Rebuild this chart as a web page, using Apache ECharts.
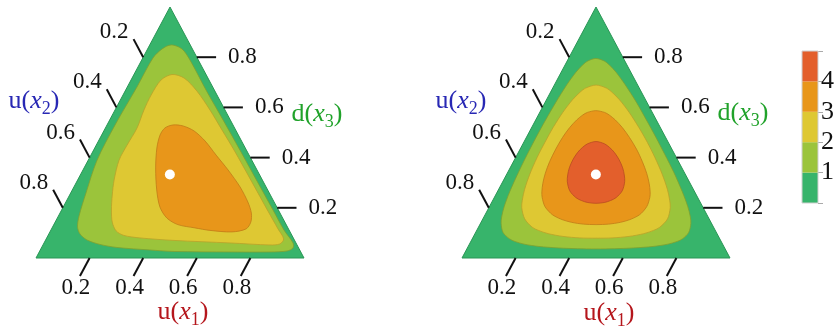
<!DOCTYPE html>
<html>
<head>
<meta charset="utf-8">
<script src="https://cdn.jsdelivr.net/npm/echarts@6/dist/echarts.min.js"></script>
<style>
  html, body { margin: 0; padding: 0; background: #fff; }
  #chart { width: 839px; height: 331px; }
</style>
</head>
<body>
<div id="chart"></div>
<script>
// Ternary points are stored as [u(x1), d(x3)]; u(x2) = 1 - u(x1) - d(x3).
const tickValues = [0.2, 0.4, 0.6, 0.8];
const tickLabels = ['0.2', '0.4', '0.6', '0.8'];
const colorbarBounds = [0, 1, 2, 3, 4, 5];
const colorbarLabels = [1, 2, 3, 4];

// simplex corners: u(x2) = 1, u(x1) = 1, d(x3) = 1
const simplexCorners = [[0, 0], [1, 0], [0, 1]];

// reference point marked in both panels
const markedPoint = [0.333, 0.333];

// left panel: density contours at levels 1, 2, 3
const leftLevel1 = [
  [0.080, 0.849], [0.054, 0.833], [0.038, 0.797], [0.036, 0.681], [0.030, 0.530],
  [0.033, 0.390], [0.057, 0.259], [0.077, 0.167], [0.093, 0.124], [0.116, 0.096],
  [0.154, 0.072], [0.212, 0.054], [0.281, 0.042], [0.409, 0.032], [0.502, 0.026],
  [0.712, 0.024], [0.861, 0.024], [0.923, 0.028], [0.939, 0.040], [0.929, 0.060],
  [0.869, 0.112], [0.789, 0.191], [0.667, 0.311], [0.546, 0.430], [0.423, 0.550],
  [0.300, 0.669], [0.180, 0.789], [0.128, 0.833]
];
const leftLevel2 = [
  [0.142, 0.731], [0.112, 0.709], [0.105, 0.649], [0.108, 0.590], [0.118, 0.518],
  [0.115, 0.450], [0.115, 0.390], [0.136, 0.311], [0.159, 0.251], [0.186, 0.191],
  [0.213, 0.143], [0.245, 0.108], [0.283, 0.090], [0.348, 0.080], [0.480, 0.070],
  [0.694, 0.060], [0.847, 0.052], [0.882, 0.056], [0.886, 0.076], [0.845, 0.116],
  [0.772, 0.187], [0.654, 0.303], [0.524, 0.430], [0.439, 0.510], [0.354, 0.590],
  [0.268, 0.665], [0.194, 0.717]
];
const leftLevel3 = [
  [0.246, 0.530], [0.286, 0.526], [0.337, 0.506], [0.398, 0.466], [0.467, 0.410],
  [0.541, 0.351], [0.620, 0.283], [0.679, 0.223], [0.714, 0.179], [0.730, 0.143],
  [0.726, 0.116], [0.679, 0.104], [0.594, 0.110], [0.533, 0.120], [0.463, 0.133],
  [0.409, 0.159], [0.361, 0.203], [0.315, 0.271], [0.267, 0.359], [0.232, 0.438],
  [0.218, 0.490], [0.222, 0.518]
];

// right panel: density contours at levels 1, 2, 3, 4
const rightLevel1 = [
  [0.036, 0.482], [0.037, 0.550], [0.040, 0.620], [0.046, 0.690], [0.055, 0.740],
  [0.066, 0.770], [0.077, 0.785], [0.102, 0.795], [0.138, 0.785], [0.164, 0.770],
  [0.205, 0.740], [0.264, 0.690], [0.341, 0.620], [0.413, 0.550], [0.482, 0.482],
  [0.550, 0.413], [0.620, 0.341], [0.690, 0.264], [0.740, 0.205], [0.770, 0.164],
  [0.785, 0.138], [0.795, 0.102], [0.785, 0.077], [0.770, 0.066], [0.740, 0.055],
  [0.690, 0.046], [0.620, 0.040], [0.550, 0.037], [0.482, 0.036], [0.413, 0.037],
  [0.341, 0.040], [0.264, 0.046], [0.205, 0.055], [0.164, 0.066], [0.138, 0.077],
  [0.102, 0.102], [0.077, 0.138], [0.066, 0.164], [0.055, 0.205], [0.046, 0.264],
  [0.040, 0.341], [0.037, 0.413]
];
const rightLevel2 = [
  [0.079, 0.461], [0.080, 0.520], [0.086, 0.580], [0.097, 0.630], [0.110, 0.660],
  [0.123, 0.677], [0.156, 0.689], [0.200, 0.677], [0.230, 0.660], [0.273, 0.630],
  [0.334, 0.580], [0.400, 0.520], [0.461, 0.461], [0.520, 0.400], [0.580, 0.334],
  [0.630, 0.273], [0.660, 0.230], [0.677, 0.200], [0.689, 0.156], [0.677, 0.123],
  [0.660, 0.110], [0.630, 0.097], [0.580, 0.086], [0.520, 0.080], [0.461, 0.079],
  [0.400, 0.080], [0.334, 0.086], [0.273, 0.097], [0.230, 0.110], [0.200, 0.123],
  [0.156, 0.156], [0.123, 0.200], [0.110, 0.230], [0.097, 0.273], [0.086, 0.334],
  [0.080, 0.400]
];
const rightLevel3 = [
  [0.133, 0.434], [0.135, 0.480], [0.142, 0.520], [0.153, 0.550], [0.166, 0.570],
  [0.178, 0.580], [0.206, 0.587], [0.242, 0.580], [0.264, 0.570], [0.297, 0.550],
  [0.338, 0.520], [0.385, 0.480], [0.434, 0.434], [0.480, 0.385], [0.520, 0.338],
  [0.550, 0.297], [0.570, 0.264], [0.580, 0.242], [0.587, 0.206], [0.580, 0.178],
  [0.570, 0.166], [0.550, 0.153], [0.520, 0.142], [0.480, 0.135], [0.434, 0.133],
  [0.385, 0.135], [0.338, 0.142], [0.297, 0.153], [0.264, 0.166], [0.242, 0.178],
  [0.206, 0.206], [0.178, 0.242], [0.166, 0.264], [0.153, 0.297], [0.142, 0.338],
  [0.135, 0.385]
];
const rightLevel4 = [
  [0.218, 0.391], [0.221, 0.420], [0.229, 0.440], [0.241, 0.455], [0.268, 0.464],
  [0.304, 0.455], [0.331, 0.440], [0.359, 0.420], [0.391, 0.391], [0.420, 0.359],
  [0.440, 0.331], [0.455, 0.304], [0.464, 0.268], [0.455, 0.241], [0.440, 0.229],
  [0.420, 0.221], [0.391, 0.218], [0.359, 0.221], [0.331, 0.229], [0.304, 0.241],
  [0.268, 0.268], [0.241, 0.304], [0.229, 0.331], [0.221, 0.359]
];

// fills from the outer band (< 1) to the inner band (> 4)
const bandFills = ['#37b46b', '#9bc43b', '#dec833', '#e8961a', '#e35f2c'];
const bandStrokes = ['#2a9656', '#7e9f30', '#b8a22a', '#c27b16', '#b94b22'];

const FONT = '"Liberation Serif", "Times New Roman", serif';
const TICK_LEN = 0.072;

// ternary [u(x1), d(x3)] -> position in the unit frame of a panel grid
function toXY(p) {
  return [p[0] + p[1] / 2, p[1]];
}

function contourSeries(gridIndex, contours) {
  return {
    type: 'custom',
    coordinateSystem: 'cartesian2d',
    xAxisIndex: gridIndex,
    yAxisIndex: gridIndex,
    silent: true,
    clip: false,
    z: 1,
    data: contours.map(() => [0.5, 0.5]),
    renderItem(params, api) {
      const i = params.dataIndex;
      return {
        type: 'polygon',
        shape: {
          points: contours[i].map(p => api.coord(toXY(p))),
          smooth: i === 0 ? 0 : 0.3
        },
        style: {
          fill: bandFills[i],
          stroke: bandStrokes[i],
          lineWidth: i === 0 ? 1 : 0.8
        }
      };
    }
  };
}

function tickSeries(gridIndex) {
  return {
    type: 'custom',
    coordinateSystem: 'cartesian2d',
    xAxisIndex: gridIndex,
    yAxisIndex: gridIndex,
    silent: true,
    clip: false,
    z: 4,
    data: tickValues.map(v => [v, 0]),
    renderItem(params, api) {
      const v = tickValues[params.dataIndex];
      const lab = tickLabels[params.dataIndex];
      const L = TICK_LEN;
      // u(x1) on the bottom edge, ticks run along lines of constant u(x1)
      const b0 = api.coord(toXY([v, 0]));
      const b1 = api.coord(toXY([v, -L]));
      // u(x2) on the left edge
      const l0 = api.coord(toXY([0, 1 - v]));
      const l1 = api.coord(toXY([-L, 1 - v + L]));
      // d(x3) on the right edge
      const r0 = api.coord(toXY([1 - v, v]));
      const r1 = api.coord(toXY([1 - v + L, v]));
      const line = (a, b) => ({
        type: 'line',
        shape: { x1: a[0], y1: a[1], x2: b[0], y2: b[1] },
        style: { stroke: '#111', lineWidth: 2 }
      });
      const text = (x, y, align, va) => ({
        type: 'text',
        x: x, y: y,
        style: {
          text: lab, fill: '#111',
          fontSize: 23, fontFamily: FONT,
          align: align, verticalAlign: va
        }
      });
      return {
        type: 'group',
        children: [
          line(b0, b1), line(l0, l1), line(r0, r1),
          text(b1[0] - 4, b1[1], 'center', 'top'),
          text(l1[0] - 5, l1[1] - 7, 'right', 'middle'),
          text(r1[0] + 12, r1[1], 'left', 'middle')
        ]
      };
    }
  };
}

function axisTitle(x, y, letter, sub, color) {
  return {
    type: 'text',
    x: x, y: y,
    z: 10,
    style: {
      text: '{n|' + letter + '(}{v|x}{s|' + sub + '}{n|)}',
      fill: color,
      align: 'center',
      verticalAlign: 'middle',
      rich: {
        n: { fontSize: 26, fontFamily: FONT, fill: color, lineHeight: 34 },
        v: { fontSize: 26, fontFamily: FONT, fontStyle: 'italic', fill: color, lineHeight: 34 },
        s: { fontSize: 18, fontFamily: FONT, fill: color, lineHeight: 18, verticalAlign: 'bottom' }
      }
    }
  };
}

const panelGrids = [
  { left: 36, top: 7, width: 268, height: 251 },
  { left: 462, top: 7, width: 268, height: 251 }
];

const hiddenValueAxis = gi => ({ type: 'value', gridIndex: gi, min: 0, max: 1, show: false });

const colorbarSeries = bandFills.map((c, i) => ({
  type: 'bar',
  xAxisIndex: 2,
  yAxisIndex: 2,
  stack: 'colorbar',
  barWidth: '100%',
  silent: true,
  itemStyle: { color: c },
  data: [colorbarBounds[i + 1] - colorbarBounds[i]]
}));

const markStyle = { color: '#fff', opacity: 1 };

const option = {
  animation: false,
  backgroundColor: '#fff',
  grid: [
    panelGrids[0],
    panelGrids[1],
    { left: 802, top: 51, width: 16, height: 152, show: true, borderColor: '#cfcfcf', borderWidth: 1, z: 5 }
  ],
  xAxis: [
    hiddenValueAxis(0),
    hiddenValueAxis(1),
    { type: 'category', gridIndex: 2, data: [''], show: false }
  ],
  yAxis: [
    hiddenValueAxis(0),
    hiddenValueAxis(1),
    {
      type: 'value', gridIndex: 2, min: colorbarBounds[0], max: colorbarBounds[colorbarBounds.length - 1],
      interval: 1, position: 'right',
      axisLine: { show: false },
      splitLine: { show: false },
      axisTick: { show: true, length: 5, lineStyle: { color: '#aaa', width: 1 } },
      axisLabel: {
        margin: 3, fontSize: 26, fontFamily: FONT, color: '#111',
        formatter: v => (colorbarLabels.indexOf(v) >= 0 ? String(v) : '')
      }
    }
  ],
  graphic: [
    axisTitle(183, 312, 'u', '1', '#b5161c'),
    axisTitle(34, 101, 'u', '2', '#2828b4'),
    axisTitle(317, 114, 'd', '3', '#20a22a'),
    axisTitle(609, 313, 'u', '1', '#b5161c'),
    axisTitle(461, 101, 'u', '2', '#2828b4'),
    axisTitle(743, 113, 'd', '3', '#20a22a')
  ],
  series: [
    contourSeries(0, [simplexCorners, leftLevel1, leftLevel2, leftLevel3]),
    contourSeries(1, [simplexCorners, rightLevel1, rightLevel2, rightLevel3, rightLevel4]),
    tickSeries(0),
    tickSeries(1),
    {
      type: 'scatter', xAxisIndex: 0, yAxisIndex: 0, z: 3, silent: true,
      symbolSize: 10, itemStyle: markStyle,
      data: [toXY(markedPoint)]
    },
    {
      type: 'scatter', xAxisIndex: 1, yAxisIndex: 1, z: 3, silent: true,
      symbolSize: 10, itemStyle: markStyle,
      data: [toXY(markedPoint)]
    }
  ].concat(colorbarSeries)
};

const chart = echarts.init(document.getElementById('chart'), null, { renderer: 'canvas' });
chart.setOption(option);
</script>
</body>
</html>
